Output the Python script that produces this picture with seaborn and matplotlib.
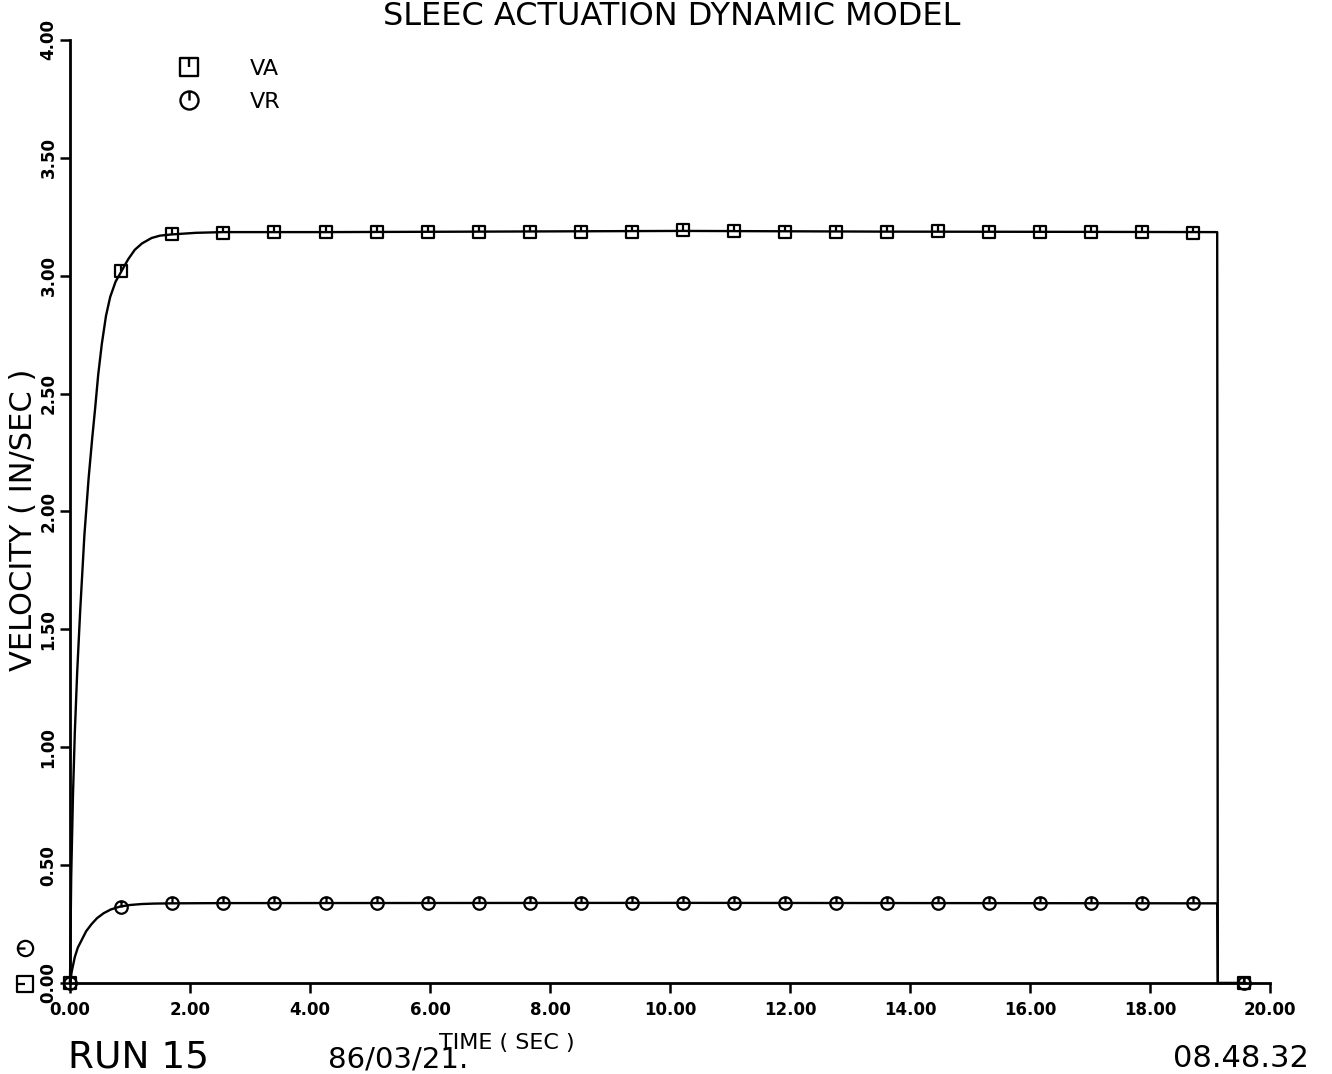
import numpy as np
import pandas as pd
import matplotlib
matplotlib.use("Agg")
import matplotlib.pyplot as plt
import seaborn as sns
from matplotlib.path import Path
from matplotlib.markers import MarkerStyle
from matplotlib.lines import Line2D
from matplotlib.transforms import Affine2D

# ---------------- data ----------------
va_curve_t = [0.00, 0.02, 0.05, 0.08, 0.12, 0.17, 0.24, 0.31, 0.37, 0.42, 0.47, 0.53,
              0.60, 0.67, 0.76, 0.86, 0.97, 1.08, 1.20, 1.36, 1.50, 1.69,
              2.10, 2.55, 4.26, 6.81, 10.21, 13.62, 17.02, 19.12, 19.13, 19.60]
va_curve_v = [0.00, 0.45, 0.80, 1.06, 1.32, 1.58, 1.90, 2.14, 2.31, 2.44, 2.58, 2.71,
              2.83, 2.91, 2.975, 3.02, 3.07, 3.11, 3.137, 3.16, 3.17, 3.175,
              3.182, 3.185, 3.185, 3.187, 3.19, 3.187, 3.186, 3.185, 0.00, 0.00]

vr_curve_t = [0.00, 0.03, 0.08, 0.13, 0.19, 0.27, 0.36, 0.45, 0.56, 0.68, 0.83, 1.00,
              1.19, 1.40, 1.69, 2.55, 10.21, 19.12, 19.13, 19.60]
vr_curve_v = [0.00, 0.05, 0.11, 0.15, 0.18, 0.22, 0.25, 0.275, 0.296, 0.312, 0.324, 0.331,
              0.335, 0.337, 0.338, 0.339, 0.340, 0.338, 0.00, 0.00]

mark_t = [0.00, 0.85, 1.70, 2.55, 3.40, 4.26, 5.11, 5.96, 6.81, 7.66, 8.51, 9.36,
          10.21, 11.06, 11.91, 12.77, 13.62, 14.47, 15.32, 16.17, 17.02, 17.87, 18.72, 19.57]
va_mark = [0.00, 3.02, 3.175, 3.183, 3.184, 3.184, 3.185, 3.185, 3.185, 3.185, 3.185, 3.187,
           3.195, 3.188, 3.187, 3.185, 3.185, 3.188, 3.185, 3.185, 3.185, 3.185, 3.183, 0.00]
vr_mark = [0.00, 0.324, 0.338, 0.339, 0.338, 0.338, 0.338, 0.338, 0.339, 0.339, 0.339, 0.339,
           0.341, 0.339, 0.339, 0.338, 0.338, 0.340, 0.338, 0.338, 0.338, 0.338, 0.338, 0.00]

x_ticks = [0, 2, 4, 6, 8, 10, 12, 14, 16, 18, 20]
x_ticklabels = ["0.00", "2.00", "4.00", "6.00", "8.00", "10.00", "12.00", "14.00",
                "16.00", "18.00", "20.00"]
y_ticks = [0, 0.5, 1.0, 1.5, 2.0, 2.5, 3.0, 3.5, 4.0]
y_ticklabels = ["0.00", "0.50", "1.00", "1.50", "2.00", "2.50", "3.00", "3.50", "4.00"]

series_names = ["VA", "VR"]

# ---------------- style ----------------
sns.set_theme(style="white")
plt.rcParams["font.family"] = ["DejaVu Sans"]
plt.rcParams["text.color"] = "black"
plt.rcParams["xtick.color"] = "black"
plt.rcParams["ytick.color"] = "black"
plt.rcParams["axes.labelcolor"] = "black"

# plotter-like markers: square / circle with a tick from the top to the centre
sq_path = Path([(-1, -1), (1, -1), (1, 1), (-1, 1), (-1, -1), (0, 1), (0, 0)],
               [Path.MOVETO, Path.LINETO, Path.LINETO, Path.LINETO, Path.CLOSEPOLY,
                Path.MOVETO, Path.LINETO])
tick_path = Path([(0, 1), (0, 0)], [Path.MOVETO, Path.LINETO])
circ_path = Path.make_compound_path(Path.unit_circle(), tick_path)

fig = plt.figure(figsize=(13.32, 10.74), dpi=100)
ax = fig.add_axes([0.05255, 0.0847, 0.9009, 0.8781])
ax.set_facecolor("white")

df_va = pd.DataFrame({"t": va_curve_t, "v": va_curve_v})
df_vr = pd.DataFrame({"t": vr_curve_t, "v": vr_curve_v})
df_mk = pd.DataFrame({"t": mark_t, "va": va_mark, "vr": vr_mark})

line_kw = dict(color="black", linewidth=1.7, sort=False, estimator=None, ax=ax)
sns.lineplot(data=df_va, x="t", y="v", **line_kw)
sns.lineplot(data=df_vr, x="t", y="v", **line_kw)

mk_kw = dict(color="black", linestyle="", sort=False, estimator=None, ax=ax,
             markersize=9, markerfacecolor="none", markeredgecolor="black",
             markeredgewidth=1.6, clip_on=False)
sns.lineplot(data=df_mk, x="t", y="va", marker=sq_path, **mk_kw)
sns.lineplot(data=df_mk, x="t", y="vr", marker=circ_path, **mk_kw)

for ln in ax.lines:
    ln.set_clip_on(False)

ax.set_xlim(0, 20)
ax.set_ylim(0, 4)
ax.set_xticks(x_ticks)
ax.set_xticklabels(x_ticklabels, fontsize=12, fontweight="bold")
ax.set_yticks(y_ticks)
ax.set_yticklabels(y_ticklabels, fontsize=12, fontweight="bold", rotation=90, va="center")
ax.tick_params(axis="both", direction="out", length=7, width=1.8, color="black",
               labelcolor="black", bottom=True, left=True)
ax.tick_params(axis="x", pad=6)
ax.tick_params(axis="y", pad=2)
ax.set_xlabel("")
ax.set_ylabel("")
for s in ["top", "right"]:
    ax.spines[s].set_visible(False)
for s in ["left", "bottom"]:
    ax.spines[s].set_color("black")
    ax.spines[s].set_linewidth(2.0)

# legend
handles = [Line2D([], [], linestyle="", marker=sq_path, markersize=13,
                  markerfacecolor="none", markeredgecolor="black", markeredgewidth=1.7),
           Line2D([], [], linestyle="", marker=circ_path, markersize=13,
                  markerfacecolor="none", markeredgecolor="black", markeredgewidth=1.7)]
leg = ax.legend(handles, series_names, loc="upper left", frameon=False,
                bbox_to_anchor=(0.1339, 0.9455), bbox_transform=fig.transFigure,
                borderpad=0, borderaxespad=0, handlelength=1.0, handletextpad=2.2,
                labelspacing=0.6, prop={"size": 16})

# rotated series symbols next to the 0.00 label
rot_sq = MarkerStyle(sq_path, transform=Affine2D().rotate_deg(90))
rot_ci = MarkerStyle(circ_path, transform=Affine2D().rotate_deg(90))
fig.add_artist(Line2D([25 / 1332], [1 - 984 / 1074], transform=fig.transFigure,
                      marker=rot_sq, markersize=11, markerfacecolor="none",
                      markeredgecolor="black", markeredgewidth=1.6, linestyle=""))
fig.add_artist(Line2D([25 / 1332], [1 - 948 / 1074], transform=fig.transFigure,
                      marker=rot_ci, markersize=11, markerfacecolor="none",
                      markeredgecolor="black", markeredgewidth=1.6, linestyle=""))

# texts
fig.text(0.504, 1 - 25 / 1074, "SLEEC ACTUATION DYNAMIC MODEL", ha="center",
         va="baseline", fontsize=23)
fig.text(24 / 1332, 1 - 520 / 1074, "VELOCITY ( IN/SEC )", rotation=90,
         ha="center", va="center", fontsize=22)
fig.text(507 / 1332, 1 - 1049 / 1074, "TIME ( SEC )", ha="center", va="baseline",
         fontsize=16)
fig.text(68 / 1332, 1 - 1067 / 1074, "RUN 15", ha="left", va="baseline", fontsize=27)
fig.text(328 / 1332, 1 - 1068 / 1074, "86/03/21.", ha="left", va="baseline", fontsize=21)
fig.text(1309 / 1332, 1 - 1067 / 1074, "08.48.32", ha="right", va="baseline", fontsize=22)

fig.savefig("out.png", dpi=100, facecolor="white")
